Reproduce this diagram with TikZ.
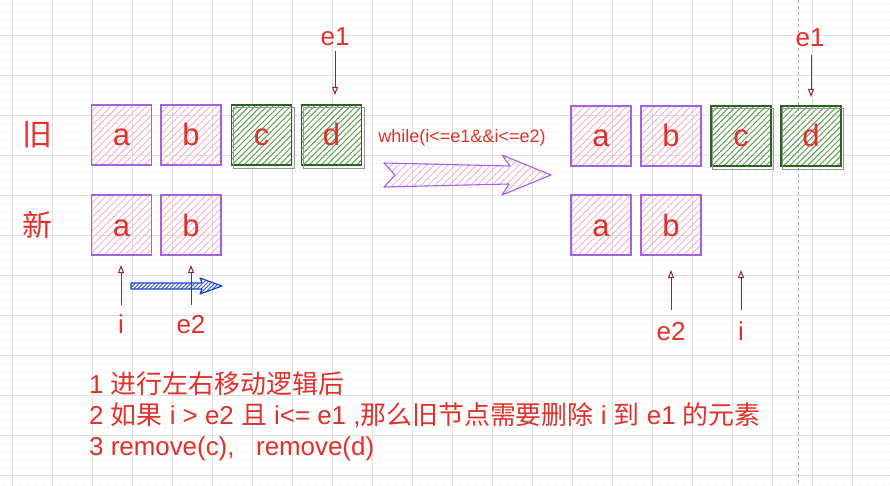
\documentclass[tikz,border=0pt]{standalone}
\usepackage{fontspec}
\setmainfont{Liberation Sans}
\newfontfamily\cjk{Noto Sans CJK SC}
\usetikzlibrary{arrows.meta,patterns.meta}
\definecolor{txtred}{RGB}{226,49,42}
\definecolor{boxpurple}{RGB}{166,96,226}
\definecolor{pinkhatch}{RGB}{240,178,200}
\definecolor{darkgreen}{RGB}{43,100,30}
\definecolor{greenhatch}{RGB}{95,160,80}
\definecolor{shadowgray}{RGB}{150,150,150}
\definecolor{ptrred}{RGB}{150,32,72}
\definecolor{arrblue}{RGB}{28,72,205}
\definecolor{bluehatch}{RGB}{60,100,220}
\definecolor{gridmajor}{RGB}{224,224,224}
\definecolor{gridminor}{RGB}{246,246,246}
\definecolor{guidegray}{RGB}{175,175,175}
\begin{document}
\begin{tikzpicture}[x=1pt,y=-1pt,
  pinkbox/.style={draw=boxpurple, line width=1.1pt,
    pattern={Lines[angle=45,distance=5pt,line width=0.9pt]}, pattern color=pinkhatch,
    minimum width=60pt, minimum height=60pt, inner sep=0pt, text=txtred,
    font=\fontsize{31}{31}\selectfont, text height=22pt, text depth=0pt},
  greenbox/.style={pinkbox, draw=darkgreen, pattern color=greenhatch,
    pattern={Lines[angle=45,distance=4.2pt,line width=1pt]}},
  gshadow/.style={draw=shadowgray, line width=0.8pt},
  lbl/.style={text=txtred, inner sep=0pt, font=\fontsize{26}{26}\selectfont},
  cjklbl/.style={text=txtred, inner sep=0pt, font=\cjk\fontsize{30}{30}\selectfont},
  note/.style={text=txtred, inner sep=0pt, anchor=base west, font=\fontsize{25.9}{31}\selectfont},
  ptr/.style={draw=ptrred, line width=1pt, -{Triangle[open,length=8pt,width=6pt]}},
  bigarrow/.style={draw=boxpurple, line width=1.1pt, line join=round,
    pattern={Lines[angle=45,distance=5pt,line width=0.9pt]}, pattern color=pinkhatch},
  bluearrow/.style={draw=arrblue, line width=1.2pt, line join=round,
    pattern={Lines[angle=45,distance=2.8pt,line width=1pt]}, pattern color=bluehatch},
  guide/.style={draw=guidegray, line width=0.7pt, dash pattern=on 3pt off 3pt}
]
\useasboundingbox (0,0) rectangle (890,486);
\fill[white] (0,0) rectangle (890,486);
% grid
\foreach \x in {4,12,...,890} \draw[gridminor, line width=0.6pt] (\x,0) -- (\x,486);
\foreach \y in {3,11,...,486} \draw[gridminor, line width=0.6pt] (0,\y) -- (890,\y);
\foreach \x in {12,52,...,890} \draw[gridmajor, line width=0.8pt] (\x,0) -- (\x,486);
\foreach \y in {35,75,...,486} \draw[gridmajor, line width=0.8pt] (0,\y) -- (890,\y);
% guide line
\coordinate (gtop) at (798.5,0);
\coordinate (gbot) at (798.5,486);
\draw[guide] (gtop) -- (gbot);

% row labels
\node[cjklbl] (jiu) at (37,135) {旧};
\node[cjklbl] (xin) at (37,225) {新};

% left old row
\node[pinkbox] (oa) at (121.5,135) {a};
\node[pinkbox] (ob) at (191,135) {b};
\node[greenbox] (oc) at (261.5,135) {c};
\node[greenbox] (od) at (331.5,135) {d};
\draw[gshadow] ([shift={(2,2.5)}]oc.north west) rectangle ([shift={(2,2.5)}]oc.south east);
\draw[gshadow] ([shift={(2,2.5)}]od.north west) rectangle ([shift={(2,2.5)}]od.south east);
% left new row
\node[pinkbox] (na) at (121.5,225) {a};
\node[pinkbox] (nb) at (191,225) {b};

% right old row
\node[pinkbox] (roa) at (601,136) {a};
\node[pinkbox] (rob) at (671,136) {b};
\node[greenbox] (roc) at (741,136) {c};
\node[greenbox] (rod) at (811,136) {d};
\draw[gshadow] ([shift={(2,2.5)}]roc.north west) rectangle ([shift={(2,2.5)}]roc.south east);
\draw[gshadow] ([shift={(2,2.5)}]rod.north west) rectangle ([shift={(2,2.5)}]rod.south east);
% right new row
\node[pinkbox] (rna) at (601,225) {a};
\node[pinkbox] (rnb) at (671,225) {b};

% condition + big arrow
\node[text=txtred, inner sep=0pt, anchor=base, font=\fontsize{18}{18}\selectfont] (cond) at (462,143) {while(i<=e1\&\&i<=e2)};
\draw[bigarrow] (384,163) -- (510,166) -- (502,155) -- (551,175) -- (502,195) -- (509,184) -- (384,187) -- (395,175) -- cycle;

% blue move arrow
\draw[bluearrow] (131,283) -- (202,283) -- (200,278) -- (222,286) -- (200,294) -- (202,289) -- (131,289) -- cycle;

% pointer labels
\node[lbl, anchor=base] (e1L) at (335,46) {e1};
\node[lbl, anchor=base] (e1R) at (810,47) {e1};
\node[lbl, anchor=base] (iL) at (121,333) {i};
\node[lbl, anchor=base] (e2L) at (191,333) {e2};
\node[lbl, anchor=base] (e2R) at (671,340) {e2};
\node[lbl, anchor=base] (iR) at (741,340) {i};

% pointer arrows
\coordinate (e1Ls) at (335,51);  \coordinate (e1Lt) at (335,95);
\coordinate (e1Rs) at (811,55);  \coordinate (e1Rt) at (811,97);
\coordinate (iLs) at (121,305);  \coordinate (iLt) at (121,265);
\coordinate (e2Ls) at (191,305); \coordinate (e2Lt) at (191,265);
\coordinate (e2Rs) at (671,310); \coordinate (e2Rt) at (671,270);
\coordinate (iRs) at (741,310);  \coordinate (iRt) at (741,270);
\draw[ptr] (e1Ls) -- (e1Lt);
\draw[ptr] (e1Rs) -- (e1Rt);
\draw[ptr] (iLs) -- (iLt);
\draw[ptr] (e2Ls) -- (e2Lt);
\draw[ptr] (e2Rs) -- (e2Rt);
\draw[ptr] (iRs) -- (iRt);

% notes
\node[note] (t1) at (89,393) {1 {\cjk 进行左右移动逻辑后}};
\node[note] (t2) at (89,424) {2 {\cjk 如果} i > e2 {\cjk 且} i<= e1 ,{\cjk 那么旧节点需要删除} i {\cjk 到} e1 {\cjk 的元素}};
\node[note] (t3) at (89,455) {3 remove(c),\ \ \ remove(d)};
\end{tikzpicture}
\end{document}
